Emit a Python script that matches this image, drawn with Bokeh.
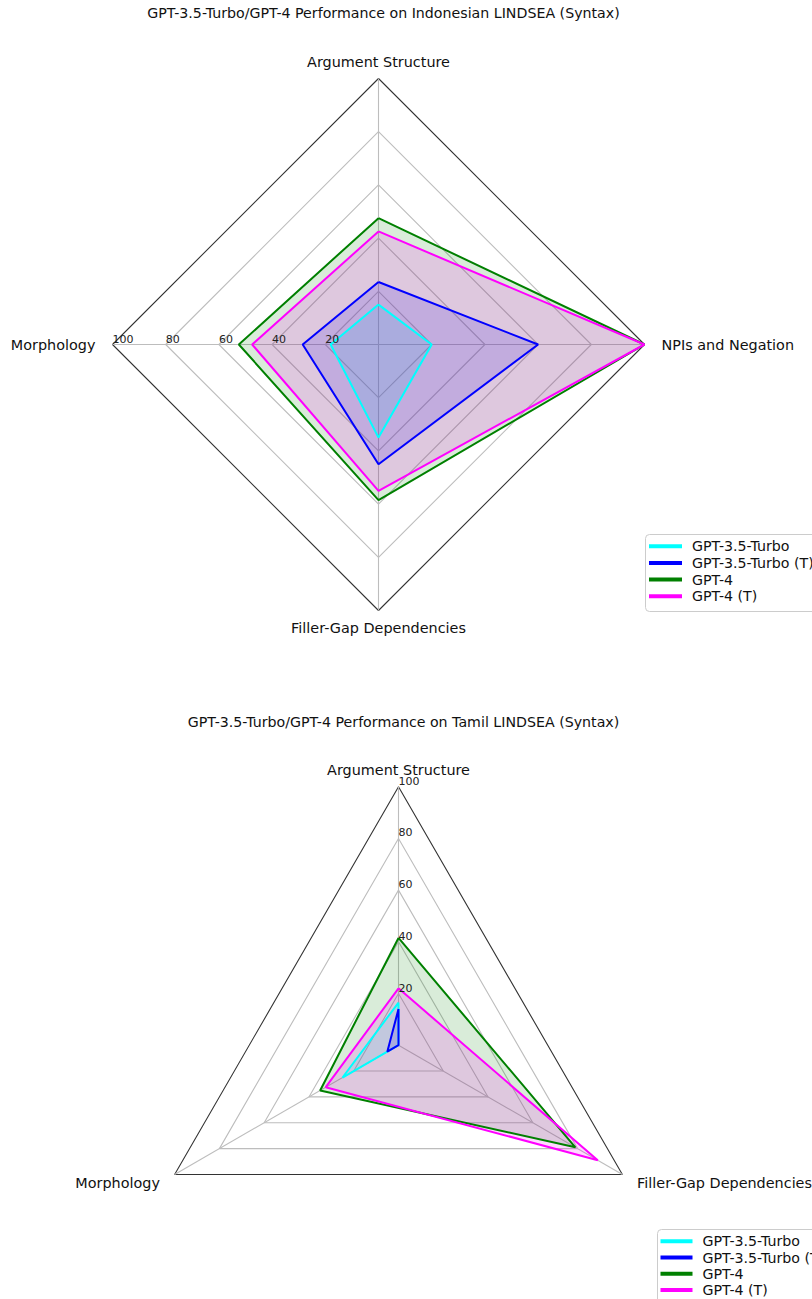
import numpy as np
from bokeh.plotting import figure
from bokeh.models import Range1d
from bokeh.core.properties import value
from bokeh.embed import file_html
from bokeh.resources import INLINE

# ---------------- data ----------------
models = ["GPT-3.5-Turbo", "GPT-3.5-Turbo (T)", "GPT-4", "GPT-4 (T)"]
colors = ["#00ffff", "#0000ff", "#008000", "#ff00ff"]

ind_title = "GPT-3.5-Turbo/GPT-4 Performance on Indonesian LINDSEA (Syntax)"
ind_categories = ["Argument Structure", "NPIs and Negation", "Filler-Gap Dependencies", "Morphology"]
ind_gpt35 = [15, 20, 35, 18]
ind_gpt35_t = [23.5, 60, 45, 28.5]
ind_gpt4 = [47.5, 100, 58.5, 52.5]
ind_gpt4_t = [42.5, 100, 55, 47.5]

tam_title = "GPT-3.5-Turbo/GPT-4 Performance on Tamil LINDSEA (Syntax)"
tam_categories = ["Argument Structure", "Filler-Gap Dependencies", "Morphology"]
tam_gpt35 = [16.5, 0, 25]
tam_gpt35_t = [14, 0, 5]
tam_gpt4 = [41.5, 79, 35]
tam_gpt4_t = [22, 89, 32.5]

r_ticks = [20, 40, 60, 80, 100]
r_max = 100

FONT = value("DejaVu Sans")

# ---------------- figure ----------------
W, H = 812, 1299
p = figure(width=W, height=H, output_backend="svg", toolbar_location=None,
           x_range=Range1d(0, W), y_range=Range1d(H, 0),
           x_axis_type=None, y_axis_type=None, min_border=0)
p.outline_line_color = None
p.grid.visible = False
p.background_fill_color = "white"


def draw_radar(cx, cy, R, categories, series, title, title_y, tick_angle, legend_box, legend_rows):
    n = len(categories)
    ang = np.deg2rad(90 - np.arange(n) * 360.0 / n)

    def pts(vals):
        v = np.asarray(vals, dtype=float) / r_max * R
        xs = cx + v * np.cos(ang)
        ys = cy - v * np.sin(ang)
        return list(xs) + [xs[0]], list(ys) + [ys[0]]

    # grid polygons
    for t in r_ticks:
        xs, ys = pts([t] * n)
        if t == r_max:
            p.line(xs, ys, line_color="#333333", line_width=1.1)
        else:
            p.line(xs, ys, line_color="#bdbdbd", line_width=1.1)
    # spokes
    ex, ey = pts([r_max] * n)
    p.segment(x0=[cx] * n, y0=[cy] * n, x1=ex[:n], y1=ey[:n], line_color="#bdbdbd", line_width=1.1)

    # series fills then lines
    for vals, col in zip(series, colors):
        xs, ys = pts(vals)
        p.patch(xs[:-1], ys[:-1], fill_color=col, fill_alpha=0.15, line_color=None)
    for vals, col in zip(series, colors):
        xs, ys = pts(vals)
        p.line(xs, ys, line_color=col, line_width=2)

    # tick labels
    ta = np.deg2rad(tick_angle)
    for t in r_ticks:
        rr = t / r_max * R
        p.text(x=[cx + rr * np.cos(ta)], y=[cy - rr * np.sin(ta) - 2], text=[str(t)],
               text_font=FONT, text_font_size=value("11px"), text_color="#222222",
               text_align="left", text_baseline="bottom")

    # axis labels
    for k, cat in enumerate(categories):
        a = ang[k]
        rr = R + 17
        c, s = np.cos(a), np.sin(a)
        align = "left" if c > 0.1 else ("right" if c < -0.1 else "center")
        p.text(x=[cx + rr * c], y=[cy - rr * s], text=[cat], text_font=FONT,
               text_font_size=value("14.4px"), text_color="#111111",
               text_align=align, text_baseline="middle")

    # title
    p.text(x=[cx + 5], y=[title_y], text=[title], text_font=FONT,
           text_font_size=value("14.2px"), text_color="#111111",
           text_align="center", text_baseline="middle")

    # legend
    bx0, by0, bx1, by1 = legend_box
    p.quad(left=[bx0], right=[bx1], top=[by0], bottom=[by1], fill_color="white",
           fill_alpha=0.8, line_color="#cccccc", line_width=1, border_radius=4)
    lx0, lx1, tx, ry0, dy = legend_rows
    for i, (m, col) in enumerate(zip(models, colors)):
        yy = ry0 + i * dy
        p.segment(x0=[lx0], y0=[yy], x1=[lx1], y1=[yy], line_color=col, line_width=4)
        p.text(x=[tx], y=[yy], text=[m], text_font=FONT, text_font_size=value("14.2px"),
               text_color="#111111", text_align="left", text_baseline="middle")


draw_radar(378, 344, 266, ind_categories,
           [ind_gpt35, ind_gpt35_t, ind_gpt4, ind_gpt4_t],
           ind_title, 12, 180,
           (645, 534, 830, 611), (648.5, 681.5, 691.5, 545.7, 16.7))

draw_radar(398, 1044.7, 258.5, tam_categories,
           [tam_gpt35, tam_gpt35_t, tam_gpt4, tam_gpt4_t],
           tam_title, 721, 90,
           (657, 1229, 840, 1320), (660, 692, 702, 1240.7, 16.3))

open("out.html", "w").write(file_html(p, INLINE))
